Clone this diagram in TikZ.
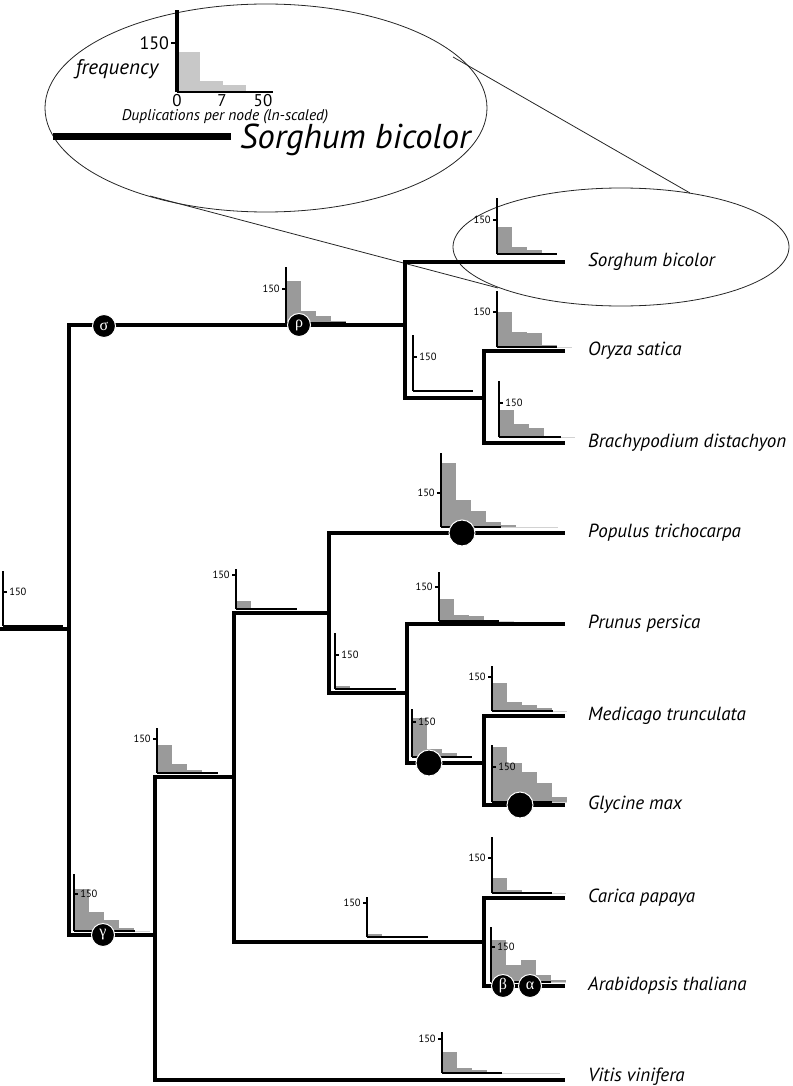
\documentclass[tikz,border=0pt]{standalone}
\usepackage{fontspec}
\setmainfont{PT Sans}
\newfontfamily\greekfont{Liberation Serif}
\usetikzlibrary{positioning}

\definecolor{bargray}{HTML}{9A9A9A}
\definecolor{barlight}{HTML}{C8C8C8}
\definecolor{tailgray}{HTML}{D2D2D2}
\newcommand{\dupfont}{\fontsize{10.5}{12}\selectfont}

% histogram of duplications per node: [tail]{x}{y}{axis h}{tick h}{tick dx}{bars}{axis length}
\newcommand{\duphist}[8][0]{%
  \ifdim #6pt<0pt \def\tickanchor{east}\else\def\tickanchor{west}\fi
  \begin{scope}[shift={(#2,#3)}]
    \foreach \h [count=\i] in {#7}
      \fill[dupbar] ({(\i-1)*15},0) rectangle ({\i*15},-\h);
    \draw[duptail] (#8,0) -- ++(#1,0);
    \draw[dupxaxis] (0,0) -- (#8,0);
    \draw[dupyaxis] (0,0) -- (0,-#4);
    \draw[dupyaxis] (0,-#5) -- ++(#6,0)
      node[anchor=\tickanchor, inner sep=1pt, font=\dupfont] {150};
  \end{scope}}

\begin{document}
\begin{tikzpicture}[
  x=1pt, y=-1pt,
  branch/.style={line width=4pt},
  dupbar/.style={fill=bargray},
  duptail/.style={draw=tailgray, line width=1pt},
  dupxaxis/.style={line width=1.3pt},
  dupyaxis/.style={line width=2.6pt},
  species/.style={font=\fontsize{19}{21}\selectfont\itshape, inner sep=0pt},
  greek/.style={circle, fill=black, draw=white, line width=1pt, minimum size=23pt,
    inner sep=0pt, text=white, font=\greekfont\fontsize{16}{18}\selectfont},
  dupdot/.style={circle, fill=black, draw=white, line width=1pt, minimum size=26pt},
  zoomline/.style={line width=0.8pt, draw=black!85}
]
\useasboundingbox (0,0) rectangle (792,1086);

% zoomed-in key
\draw[zoomline] (266,108) ellipse [x radius=221, y radius=104];
\draw[zoomline] (621,247) ellipse [x radius=168, y radius=59];
\coordinate (bigA) at (453,57);
\coordinate (smallA) at (690,193);
\coordinate (bigB) at (150,196);
\coordinate (smallB) at (498,288);
\draw[zoomline] (bigA) -- (smallA);
\draw[zoomline] (bigB) -- (smallB);

\fill[barlight] (177,92) rectangle (200,52);
\fill[barlight] (200,92) rectangle (223,81);
\fill[barlight] (223,92) rectangle (246,85);
\draw[line width=2pt] (177,92) -- (273,92);
\draw[line width=3.2pt] (177,92) -- (177,10);
\draw[line width=2pt] (177,43) -- (171,43)
  node[anchor=east, inner sep=1pt, font=\fontsize{18}{20}\selectfont] (keytick) {150};
\node[font=\fontsize{17}{19}\selectfont] (key0) at (177,101) {0};
\node[font=\fontsize{17}{19}\selectfont] (key7) at (222,101) {7};
\node[font=\fontsize{17}{19}\selectfont] (key50) at (263,101) {50};
\node[font=\fontsize{21}{23}\selectfont\itshape] (keyfreq) at (117,69) {frequency};
\node[font=\fontsize{15.5}{17}\selectfont\itshape] (keydup) at (225,117)
  {Duplications per node (ln-scaled)};
\coordinate (keyA) at (53,137);
\coordinate (keyB) at (231,137);
\draw[line width=7pt] (keyA) -- (keyB);
\node[font=\fontsize{34.5}{38}\selectfont\itshape, anchor=west, inner sep=0pt] (keySb)
  at (240,140) {Sorghum bicolor};

% internal nodes
\coordinate (root) at (0,629);
\coordinate (nAng) at (69,629);
\coordinate (nMono) at (405,325);
\coordinate (nBO) at (484,398);
\coordinate (nEud) at (155,935);
\coordinate (nRos) at (234,777);
\coordinate (nR1) at (329,613);
\coordinate (nR2) at (407,693);
\coordinate (nLeg) at (484,763);
\coordinate (nMal) at (484,942);

% tips
\coordinate (tSb) at (565,262);
\coordinate (tOs) at (565,351);
\coordinate (tBd) at (565,443);
\coordinate (tPt) at (565,533);
\coordinate (tPp) at (565,624);
\coordinate (tMt) at (565,716);
\coordinate (tGm) at (565,805);
\coordinate (tCp) at (565,898);
\coordinate (tAt) at (565,986);
\coordinate (tVv) at (565,1080);

\node[species, right=23pt of tSb] (Sb) {Sorghum bicolor};
\node[species, right=23pt of tOs] (Os) {Oryza satica};
\node[species, right=23pt of tBd] (Bd) {Brachypodium distachyon};
\node[species, right=23pt of tPt] (Pt) {Populus trichocarpa};
\node[species, right=23pt of tPp] (Pp) {Prunus persica};
\node[species, right=23pt of tMt] (Mt) {Medicago trunculata};
\node[species, right=23pt of tGm] (Gm) {Glycine max};
\node[species, right=23pt of tCp] (Cp) {Carica papaya};
\node[species, right=23pt of tAt] (At) {Arabidopsis thaliana};
\node[species, right=23pt of tVv, yshift=3pt] (Vv) {Vitis vinifera};

% histograms
\duphist{3}{626}{55}{34}{4}{0}{60}
\duphist[14]{286}{323}{56}{34}{-4}{42,12,7,2}{60}
\duphist{497}{254}{56}{34}{-4}{27,7,4}{60}
\duphist[15]{497}{347}{56}{35}{-4}{35,15,14,2}{60}
\duphist{413}{391}{56}{34}{4}{0}{60}
\duphist[14]{499}{437}{56}{34}{4}{27,13,9,1}{62}
\duphist[57]{441}{527}{74}{34}{-4}{64,27,16,5,2}{60}
\duphist{236}{609}{40}{34}{-4}{8,1}{61}
\duphist{335}{689}{56}{34}{4}{3}{61}
\duphist[15]{439}{621}{49}{34}{-4}{22,6,5,1}{60}
\duphist{412}{757}{48}{35}{4}{39,8,4,1}{60}
\duphist[14]{492}{711}{45}{34}{-4}{28,9,6,3}{61}
\duphist[15]{492}{802}{57}{35}{4}{55,39,30,19,5}{60}
\duphist{157}{773}{45}{34}{-4}{28,9,3,1}{61}
\duphist[15]{74}{931}{57}{37}{4}{42,19,11,3}{61}
\duphist[14]{492}{893}{56}{35}{-4}{15,3,1}{60}
\duphist{367}{937}{40}{34}{-4}{3}{61}
\duphist[15]{491}{982}{55}{35}{4}{42,17,22,7,2}{60}
\duphist[58]{442}{1073}{41}{34}{-4}{21,5,3,1}{60}

% tree
\draw[branch] (root) -- (nAng);
\draw[branch] (nAng) |- (nMono);
\draw[branch] (nAng) |- (nEud);
\draw[branch] (nMono) |- (tSb);
\draw[branch] (nMono) |- (nBO);
\draw[branch] (nBO) |- (tOs);
\draw[branch] (nBO) |- (tBd);
\draw[branch] (nEud) |- (nRos);
\draw[branch] (nEud) |- (tVv);
\draw[branch] (nRos) |- (nR1);
\draw[branch] (nRos) |- (nMal);
\draw[branch] (nR1) |- (tPt);
\draw[branch] (nR1) |- (nR2);
\draw[branch] (nR2) |- (tPp);
\draw[branch] (nR2) |- (nLeg);
\draw[branch] (nLeg) |- (tMt);
\draw[branch] (nLeg) |- (tGm);
\draw[branch] (nMal) |- (tCp);
\draw[branch] (nMal) |- (tAt);

% whole genome duplications
\node[greek] (sigma) at (104,326) {σ};
\node[greek] (rho) at (299,325) {ρ};
\node[greek] (gamma) at (103,935) {γ};
\node[greek] (beta) at (503,986) {β};
\node[greek] (alpha) at (530,986) {α};
\node[dupdot] (dotPt) at (462,533) {};
\node[dupdot] (dotLeg) at (429,763) {};
\node[dupdot] (dotGm) at (520,805) {};
\end{tikzpicture}
\end{document}
